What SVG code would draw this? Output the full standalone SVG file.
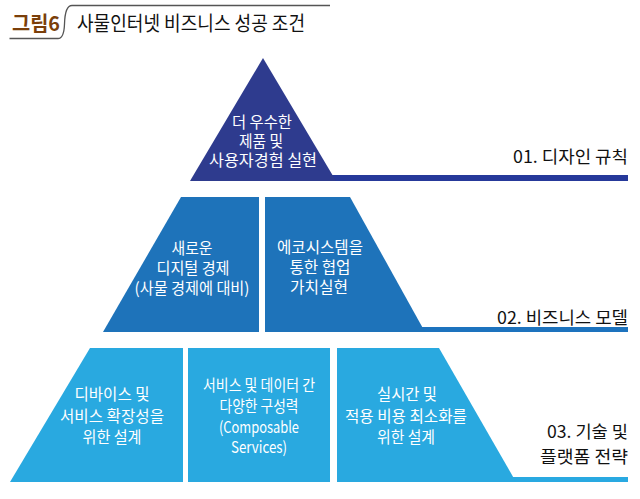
<svg xmlns="http://www.w3.org/2000/svg" width="640" height="499" viewBox="0 0 640 499">
<style>
.t{font-family:"Noto Sans CJK KR","Noto Sans",sans-serif;fill:#fff;font-size:16px;text-anchor:middle}
.lbl{font-family:"Noto Sans CJK KR","Noto Sans",sans-serif;fill:#111;font-size:17px}
.ttl{font-family:"Noto Sans CJK KR","Noto Sans",sans-serif;font-size:20px}
.l1{fill:#2E3B8E}.l2{fill:#1E73BA}.l3{fill:#29A9E0}
</style>
<rect width="640" height="499" fill="#fff"/>
<g id="title">
<path d="M9.5,38.5 L58,38.5 Q64,38.5 64.5,24 Q65,5.5 72,5.5 L330,5.5" fill="none" stroke="#555" stroke-width="1.3"/>
<text class="ttl" x="12" y="31" fill="#7B3F0A" font-weight="bold" textLength="48" lengthAdjust="spacingAndGlyphs">그림6</text>
<text class="ttl" x="77" y="31" fill="#111" textLength="228" lengthAdjust="spacingAndGlyphs">사물인터넷 비즈니스 성공 조건</text>
</g>
<g id="bars">
<rect x="300" y="175" width="328" height="6" fill="#26399A"/>
<rect x="400" y="327" width="228" height="5" fill="#1D73BE"/>
<rect x="490" y="477" width="138" height="5" fill="#29A9E1"/>
</g>
<g id="tier1">
<polygon class="l1" points="263,58 190,181 336,181"/>
<text class="t" x="262" y="128" textLength="60" lengthAdjust="spacingAndGlyphs">더 우수한</text>
<text class="t" x="261" y="147" textLength="44" lengthAdjust="spacingAndGlyphs">제품 및</text>
<text class="t" x="263" y="166" textLength="108" lengthAdjust="spacingAndGlyphs">사용자경험 실현</text>
</g>
<g id="tier2a">
<polygon class="l2" points="181,197 259,197 259,332 103,332"/>
<text class="t" x="192" y="254" textLength="41" lengthAdjust="spacingAndGlyphs">새로운</text>
<text class="t" x="193" y="274" textLength="73" lengthAdjust="spacingAndGlyphs">디지털 경제</text>
<text class="t" x="192" y="294" textLength="115" lengthAdjust="spacingAndGlyphs">(사물 경제에 대비)</text>
</g>
<g id="tier2b">
<polygon class="l2" points="265,197 350,197 425,332 265,332"/>
<text class="t" x="320" y="253" textLength="86" lengthAdjust="spacingAndGlyphs">에코시스템을</text>
<text class="t" x="320" y="273" textLength="61" lengthAdjust="spacingAndGlyphs">통한 협업</text>
<text class="t" x="319" y="293" textLength="58" lengthAdjust="spacingAndGlyphs">가치실현</text>
</g>
<g id="tier3a">
<polygon class="l3" points="90,348 183,348 183,482 10,482"/>
<text class="t" x="112" y="400" textLength="75" lengthAdjust="spacingAndGlyphs">디바이스 및</text>
<text class="t" x="112" y="422" textLength="104" lengthAdjust="spacingAndGlyphs">서비스 확장성을</text>
<text class="t" x="112" y="443" textLength="59" lengthAdjust="spacingAndGlyphs">위한 설계</text>
</g>
<g id="tier3b">
<polygon class="l3" points="188,348 330,348 330,482 188,482"/>
<text class="t" x="259" y="391" textLength="112" lengthAdjust="spacingAndGlyphs">서비스 및 데이터 간</text>
<text class="t" x="259" y="412" textLength="79" lengthAdjust="spacingAndGlyphs">다양한 구성력</text>
<text class="t" x="259" y="433" textLength="80" lengthAdjust="spacingAndGlyphs">(Composable</text>
<text class="t" x="259" y="453" textLength="56" lengthAdjust="spacingAndGlyphs">Services)</text>
</g>
<g id="tier3c">
<polygon class="l3" points="337,348 439,348 516,482 337,482"/>
<text class="t" x="407" y="400" textLength="60" lengthAdjust="spacingAndGlyphs">실시간 및</text>
<text class="t" x="406" y="422" textLength="122" lengthAdjust="spacingAndGlyphs">적용 비용 최소화를</text>
<text class="t" x="406" y="443" textLength="58" lengthAdjust="spacingAndGlyphs">위한 설계</text>
</g>
<g id="labels">
<text class="lbl" x="513" y="163" textLength="115" lengthAdjust="spacingAndGlyphs">01. 디자인 규칙</text>
<text class="lbl" x="497" y="324" textLength="131" lengthAdjust="spacingAndGlyphs">02. 비즈니스 모델</text>
<text class="lbl" x="547" y="438" textLength="81" lengthAdjust="spacingAndGlyphs">03. 기술 및</text>
<text class="lbl" x="540" y="463" textLength="88" lengthAdjust="spacingAndGlyphs">플랫폼 전략</text>
</g>
</svg>
